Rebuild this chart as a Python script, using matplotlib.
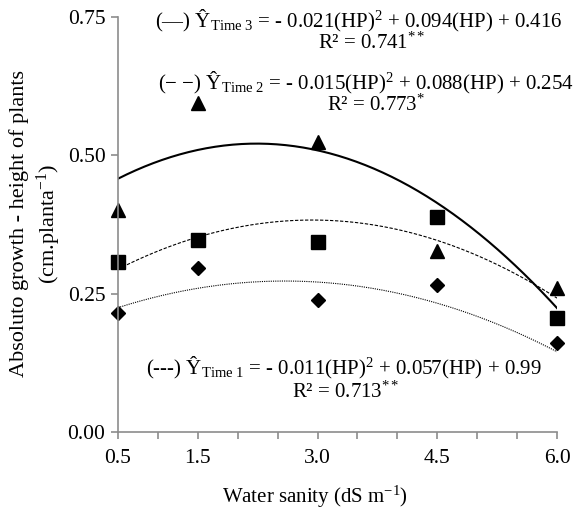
import numpy as np
import matplotlib
matplotlib.use("Agg")
import matplotlib.pyplot as plt
from matplotlib.ticker import FixedLocator, FuncFormatter

plt.rcParams['font.family'] = ['Liberation Serif', 'DejaVu Serif']
plt.rcParams['mathtext.fontset'] = 'custom'
plt.rcParams['mathtext.rm'] = 'Liberation Serif'
plt.rcParams['mathtext.it'] = 'Liberation Serif:italic'

# salinity levels (dS m-1)
salinity = [0.5, 1.5, 3.0, 4.5, 6.0]
tick_labels = ['0.5', '1.5', '3.0', '4.5', '6.0']

# observed values
time1 = [0.215, 0.296, 0.238, 0.265, 0.160]
time2 = [0.307, 0.347, 0.343, 0.389, 0.206]
time3 = [0.401, 0.595, 0.524, 0.328, 0.260]

# fitted quadratic coefficients (a, b, c)
coef1 = [-0.011, 0.057, 0.199]
coef2 = [-0.015, 0.088, 0.254]
coef3 = [-0.021, 0.094, 0.416]

W, H = 578, 521
fig = plt.figure(figsize=(W / 100, H / 100), dpi=100)
ax = fig.add_axes([118 / W, 1 - 432 / H, (557 - 118) / W, (432 - 17) / H])

xs = np.linspace(salinity[0], salinity[-1], 200)
ax.plot(xs, np.polyval(coef3, xs), color='black', lw=1.5, ls='-')
ax.plot(xs, np.polyval(coef2, xs), color='black', lw=0.8, ls=(0, (3, 1.5)))
ax.plot(xs, np.polyval(coef1, xs), color='black', lw=0.8, ls=(0, (1, 1)))

ax.plot(salinity, time3, ls='none', marker='^', ms=10, color='black', clip_on=False)
ax.plot(salinity, time2, ls='none', marker='s', ms=9.5, color='black', clip_on=False)
ax.plot(salinity, time1, ls='none', marker='D', ms=7, color='black', clip_on=False)

ax.set_xlim(0.5, 6.0)
ax.set_ylim(0, 0.75)
ax.xaxis.set_major_locator(FixedLocator(np.arange(0.5, 6.01, 0.5)))
lab = dict(zip(salinity, tick_labels))
ax.xaxis.set_major_formatter(FuncFormatter(lambda v, p: lab.get(round(v, 2), '')))
ax.set_yticks([0, 0.25, 0.5, 0.75])
ax.yaxis.set_major_formatter(FuncFormatter(lambda v, p: '%.2f' % v))

for s in ['top', 'right']:
    ax.spines[s].set_visible(False)
for s in ['left', 'bottom']:
    ax.spines[s].set_color('#8c8c8c')
    ax.spines[s].set_linewidth(1.2)
ax.tick_params(axis='both', color='#8c8c8c', length=5, width=1.2, labelsize=15.5, pad=4)
ax.tick_params(axis='x', pad=7)

fig.text(315 / W, 1 - 497 / H, 'Water sanity (dS m$^{-1}$)', fontsize=15,
         ha='center', va='center')
fig.text(36 / W, 1 - 224 / H, 'Absoluto growth - height of plants\n(cm.planta$^{-1}$)',
         fontsize=16, rotation=90, ha='center', va='center', multialignment='center',
         linespacing=1.3)

fs = 15
fig.text(563 / W, 1 - 21 / H,
         r'(—) Ŷ$_{\rm Time\ 3}$ = - 0.021(HP)$^{2}$ + 0.094(HP) + 0.416',
         fontsize=fs, va='center', ha='right')
fig.text(318 / W, 1 - 43 / H, r'R² = 0.741$^{**}$', fontsize=fs, va='center', ha='left')
fig.text(574 / W, 1 - 83 / H,
         r'(− −) Ŷ$_{\rm Time\ 2}$ = - 0.015(HP)$^{2}$ + 0.088(HP) + 0.254',
         fontsize=fs, va='center', ha='right')
fig.text(327 / W, 1 - 105 / H, r'R² = 0.773$^{*}$', fontsize=fs, va='center', ha='left')
fig.text(146 / W, 1 - 368 / H,
         r'(---) Ŷ$_{\rm Time\ 1}$ = - 0.011(HP)$^{2}$ + 0.057(HP) + 0.99',
         fontsize=fs, va='center', ha='left')
fig.text(292 / W, 1 - 392 / H, r'R² = 0.713$^{**}$', fontsize=fs, va='center', ha='left')

fig.savefig('out.png', dpi=100)
